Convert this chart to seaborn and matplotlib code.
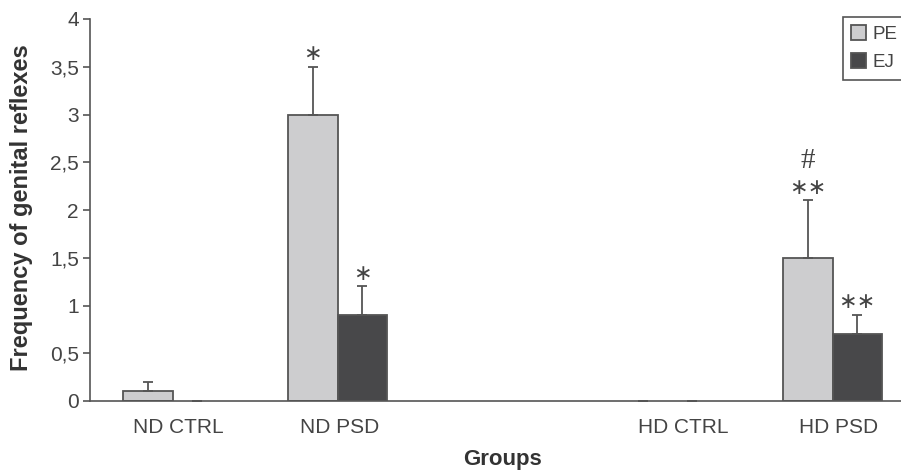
import numpy as np
import pandas as pd
import seaborn as sns
import matplotlib
matplotlib.use("Agg")
import matplotlib.pyplot as plt
import matplotlib.transforms as mtransforms
from matplotlib.ticker import FuncFormatter, FixedLocator

# ---- data ----
slots = ["ND CTRL", "ND PSD", "", "HD CTRL", "HD PSD"]
groups = ["ND CTRL", "ND PSD", "HD CTRL", "HD PSD"]
pe_mean = [0.1, 3.0, 0.0, 1.5]
pe_err = [0.1, 0.5, 0.0, 0.6]
ej_mean = [0.0, 0.9, 0.0, 0.7]
ej_err = [0.0, 0.3, 0.0, 0.2]
pe_marks = ["", "∗", "", "∗∗"]
pe_marks2 = ["", "", "", "#"]
ej_marks = ["", "∗", "", "∗∗"]
series = ["PE", "EJ"]
y_ticks = [0, 0.5, 1, 1.5, 2, 2.5, 3, 3.5, 4]

df = pd.DataFrame({
    "group": groups * 2,
    "type": ["PE"] * len(groups) + ["EJ"] * len(groups),
    "value": pe_mean + ej_mean,
})

sns.set_style("white")
plt.rcParams["font.family"] = ["Liberation Sans", "DejaVu Sans"]

fig = plt.figure(figsize=(9.01, 4.74), dpi=100)
ax = fig.add_axes([90 / 901, 1 - 401 / 474, 825 / 901, 382 / 474])

palette = {"PE": "#cdcdcf", "EJ": "#48484a"}
edge = "#555555"
txt = "#444444"
sns.barplot(data=df, x="group", y="value", hue="type", order=slots,
            hue_order=series, palette=palette, width=0.6, errorbar=None,
            edgecolor=edge, linewidth=1.3, saturation=1, ax=ax)

errs = {"PE": (pe_mean, pe_err, pe_marks, pe_marks2),
        "EJ": (ej_mean, ej_err, ej_marks, None)}
for cont, name in zip(ax.containers, series):
    bars = sorted(cont.patches, key=lambda p: p.get_x())
    means, es, marks, marks2 = errs[name]
    xs = []
    for b, m in zip(bars, means):
        xs.append(b.get_x() + b.get_width() / 2)
        if m == 0:
            b.set_linewidth(0)
    ax.errorbar(xs, means, yerr=[np.zeros(len(es)), es], fmt="none",
                ecolor=edge, elinewidth=1.3, capsize=3.5, capthick=1.3,
                zorder=3)
    for x, m, e, t in zip(xs, means, es, marks):
        if t:
            ax.annotate(t, xy=(x, m + e), xytext=(0, 2), textcoords="offset points",
                        ha="center", va="bottom", fontsize=16, color=txt,
                        family=["DejaVu Sans"])
    if marks2:
        for x, m, e, t in zip(xs, means, es, marks2):
            if t:
                ax.annotate(t, xy=(x, m + e), xytext=(0, 19), textcoords="offset points",
                            ha="center", va="bottom", fontsize=21, color=txt,
                            family=["Liberation Serif"])

ax.set_ylim(0, 4)
ax.set_xlim(-0.5, len(slots) - 0.5)
ax.yaxis.set_major_locator(FixedLocator(y_ticks))
ax.yaxis.set_major_formatter(FuncFormatter(lambda v, p: f"{v:g}".replace(".", ",")))
ax.set_xticks(range(len(slots)))
ax.set_xticklabels(slots)
ax.set_xticks(np.arange(-0.5, len(slots), 1.0), minor=True)
ax.tick_params(axis="x", which="major", length=0, pad=12, labelsize=15, labelcolor=txt)
ax.tick_params(axis="x", which="minor", length=5, width=1.2, color=edge, direction="out")
ax.tick_params(axis="y", which="major", length=5, width=1.2, color=edge, direction="out",
               left=True, labelsize=15, labelcolor=txt, pad=3)

# small horizontal shifts of category labels as in the reference
label_shift_px = [6, 2, 0, 16, 6]
for lab, dx in zip(ax.get_xticklabels(), label_shift_px):
    lab.set_transform(lab.get_transform() +
                      mtransforms.ScaledTranslation(dx / 100, 0, fig.dpi_scale_trans))

for s in ["top", "right"]:
    ax.spines[s].set_visible(False)
for s in ["left", "bottom"]:
    ax.spines[s].set_color(edge)
    ax.spines[s].set_linewidth(1.2)

ax.set_xlabel("Groups", fontsize=16, fontweight="bold", color="#333333")
ax.set_ylabel("Frequency of genital reflexes", fontsize=17, fontweight="bold",
              color="#333333")
ax.xaxis.set_label_coords((503 - 90) / 825, (401 - 460) / 382)
ax.xaxis.label.set_va("center")
ax.yaxis.set_label_coords((22 - 90) / 825, (401 - 208) / 382)
ax.yaxis.label.set_va("center")

handles, labels = ax.get_legend_handles_labels()
ax.legend(handles, labels, loc="upper left",
          bbox_to_anchor=(843 / 901, 1 - 17 / 474), bbox_transform=fig.transFigure,
          frameon=True, fancybox=False, edgecolor=edge, framealpha=1,
          handlelength=0.8, handleheight=0.8, handletextpad=0.35,
          borderpad=0.45, labelspacing=0.55, fontsize=13.5, borderaxespad=0)
ax.get_legend().get_frame().set_linewidth(1.2)
for t in ax.get_legend().get_texts():
    t.set_color(txt)

fig.savefig("out.png", dpi=100)
